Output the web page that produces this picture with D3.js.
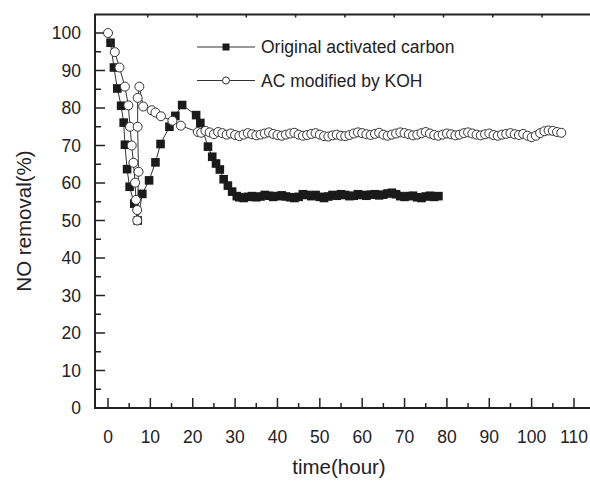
<!DOCTYPE html>
<html>
<head>
<meta charset="utf-8">
<script src="https://cdn.jsdelivr.net/npm/d3@7"></script>
<style>
  body { margin: 0; background: #fff; }
  text { font-family: "Liberation Sans", Arial, sans-serif; fill: #222; }
</style>
</head>
<body>
<div class="container"></div>
<script>
// Original activated carbon (filled squares)
var sqHours = [0.6, 1.4, 2.2, 3.1, 3.7, 4.0, 4.5, 5.1, 6.2, 7.0, 8.1, 9.7, 11.2, 12.4, 14.5, 15.9, 17.5,
  20.8, 21.8, 23.6, 24.6, 25.5, 26.4, 27.3, 28.3, 29.3, 30.4,
  31, 32, 33, 34, 35, 36, 37, 38, 39, 40, 41, 42, 43, 44, 45, 46, 47, 48, 49, 50,
  51, 52, 53, 54, 55, 56, 57, 58, 59, 60, 61, 62, 63, 64, 65, 66, 67, 68, 69, 70,
  71, 72, 73, 74, 75, 76, 77, 78]
var sqValues = [97.4, 90.8, 85.2, 80.6, 76.1, 70.2, 63.7, 59.0, 54.5, 50.0, 57.1, 60.7, 65.5, 70.4, 75.0, 77.9, 80.8,
  78.1, 76.0, 69.7, 67.0, 65.2, 63.6, 61.0, 59.3, 57.7, 56.5,
  56.2, 56.0, 56.3, 56.5, 56.2, 56.4, 56.8, 56.6, 56.3, 56.5, 56.7, 56.4, 56.2, 56.0, 56.3, 57.0, 56.8, 56.5, 56.8, 56.3,
  56.0, 56.4, 56.8, 56.6, 57.0, 56.8, 56.5, 56.6, 57.0, 56.8, 56.6, 56.9, 57.0, 56.7, 56.9, 57.2, 57.4, 57.0, 56.5, 56.3,
  56.5, 56.6, 56.2, 56.0, 56.4, 56.6, 56.3, 56.5]

// AC modified by KOH (open circles)
var ciHours = [0, 1.6, 2.7, 4.0, 4.8, 5.2, 5.6, 6.0, 6.4, 6.6, 6.9, 6.9, 7.2, 7.0, 7.0, 7.4, 8.3, 10.3, 11.2, 12.5, 15.2, 17.2, 21.2,
  22, 23, 24, 25, 26, 27, 28, 29, 30, 31, 32, 33, 34, 35, 36, 37, 38, 39, 40, 41, 42, 43, 44, 45, 46, 47, 48, 49, 50,
  51, 52, 53, 54, 55, 56, 57, 58, 59, 60, 61, 62, 63, 64, 65, 66, 67, 68, 69, 70, 71, 72, 73, 74, 75, 76, 77, 78, 79, 80,
  81, 82, 83, 84, 85, 86, 87, 88, 89, 90, 91, 92, 93, 94, 95, 96, 97, 98, 99, 100, 101, 102, 103, 104, 105, 106, 107]
var ciValues = [100, 94.9, 90.8, 85.7, 80.7, 75.0, 70.0, 65.4, 60.1, 55.5, 52.8, 50.0, 63.0, 75.0, 82.7, 85.7, 80.4, 79.4, 78.8, 77.8, 76.6, 75.3, 73.6,
  73.4, 73.9, 73.5, 73.0, 73.6, 73.3, 72.9, 73.2, 72.8, 72.5, 72.9, 73.3, 73.0, 72.7, 72.9, 73.2, 73.5, 73.1, 72.8, 72.6, 72.9, 73.2, 73.4, 72.9, 72.6, 72.8, 73.1, 73.3, 72.9,
  72.5, 72.4, 72.7, 72.9, 72.6, 72.5, 72.8, 73.2, 73.5, 73.3, 73.0, 72.8, 73.1, 73.4, 72.9, 72.6, 72.9, 73.2, 73.5, 73.3, 73.0, 72.7, 72.9, 73.3, 73.6, 73.2, 72.8, 72.6, 72.9, 73.2,
  73.0, 72.7, 72.9, 73.3, 73.5, 73.2, 72.9, 72.7, 73.0, 73.2, 72.8, 72.6, 72.9, 73.1, 73.3, 73.0, 72.8, 73.1, 72.6, 72.2, 72.6, 73.3, 73.8, 74.0, 73.9, 73.6, 73.4]

var seriesNames = ['Original activated carbon', 'AC modified by KOH']
var xTicks = d3.range(0, 111, 10)
var yTicks = d3.range(0, 101, 10)

var W = 590, H = 481
var frameLeft = 95, frameTop = 14.5, frameBottom = 408

var svg = d3.select('.container').append('svg')
  .attr('width', W)
  .attr('height', H)

var x = d3.scaleLinear().domain([0, 110]).range([108, 574])
var y = d3.scaleLinear().domain([0, 100]).range([408, 33])

// frame (right side runs off the picture)
svg.append('path')
  .attr('d', 'M' + (W + 5) + ',' + frameTop + 'H' + frameLeft + 'V' + frameBottom + 'H' + (W + 5))
  .attr('fill', 'none')
  .attr('stroke', '#222')
  .attr('stroke-width', 2)

// ticks, all pointing inward
var g = svg.append('g').attr('stroke', '#222').attr('stroke-width', 1.5)
g.selectAll('.xminor').data(d3.range(5, 111, 10)).enter().append('line')
  .attr('x1', function(d) { return x(d) }).attr('x2', function(d) { return x(d) })
  .attr('y1', frameBottom).attr('y2', frameBottom - 5)
g.selectAll('.xmajor').data(xTicks).enter().append('line')
  .attr('x1', function(d) { return x(d) }).attr('x2', function(d) { return x(d) })
  .attr('y1', frameBottom).attr('y2', frameBottom - 10)
g.selectAll('.yminor').data(d3.range(5, 101, 10)).enter().append('line')
  .attr('y1', function(d) { return y(d) }).attr('y2', function(d) { return y(d) })
  .attr('x1', frameLeft).attr('x2', frameLeft + 6)
g.selectAll('.ymajor').data(yTicks.slice(1)).enter().append('line')
  .attr('y1', function(d) { return y(d) }).attr('y2', function(d) { return y(d) })
  .attr('x1', frameLeft).attr('x2', frameLeft + 10)

// small ticks on the top border
var xTop = d3.scaleLinear().domain([0, 10]).range([98.4, 591.4])
g.selectAll('.topt').data(d3.range(1, 10)).enter().append('line')
  .attr('x1', function(d) { return xTop(d) }).attr('x2', function(d) { return xTop(d) })
  .attr('y1', frameTop).attr('y2', frameTop + 3)

// tick labels
svg.selectAll('.xl').data(xTicks).enter().append('text')
  .attr('x', function(d) { return x(d) })
  .attr('y', 443)
  .attr('text-anchor', 'middle')
  .attr('font-size', 17.5)
  .text(function(d) { return d })
svg.selectAll('.yl').data(yTicks).enter().append('text')
  .attr('x', 81)
  .attr('y', function(d) { return y(d) + 6.3 })
  .attr('text-anchor', 'end')
  .attr('font-size', 17.5)
  .text(function(d) { return d })

svg.append('text')
  .attr('x', 339).attr('y', 474)
  .attr('text-anchor', 'middle')
  .attr('font-size', 20.5)
  .text('time(hour)')
svg.append('text')
  .attr('transform', 'translate(31,221) rotate(-90)')
  .attr('text-anchor', 'middle')
  .attr('font-size', 20.5)
  .text('NO removal(%)')

var line = d3.line()
  .x(function(d) { return x(d[0]) })
  .y(function(d) { return y(d[1]) })

var sq = d3.zip(sqHours, sqValues)
var ci = d3.zip(ciHours, ciValues)

svg.append('path').datum(sq)
  .attr('d', line).attr('fill', 'none').attr('stroke', '#333').attr('stroke-width', 1)
svg.selectAll('.sq').data(sq).enter().append('rect')
  .attr('x', function(d) { return x(d[0]) - 4.3 })
  .attr('y', function(d) { return y(d[1]) - 4.3 })
  .attr('width', 8.6).attr('height', 8.6)
  .attr('fill', '#1a1a1a')

svg.append('path').datum(ci)
  .attr('d', line).attr('fill', 'none').attr('stroke', '#333').attr('stroke-width', 1)
svg.selectAll('.ci').data(ci).enter().append('circle')
  .attr('cx', function(d) { return x(d[0]) })
  .attr('cy', function(d) { return y(d[1]) })
  .attr('r', 4.5)
  .attr('fill', '#fff')
  .attr('stroke', '#333')
  .attr('stroke-width', 1)

// legend
var legend = svg.selectAll('.lg').data(seriesNames).enter().append('g')
  .attr('transform', function(d, i) { return 'translate(197,' + (47 + i * 33.5) + ')' })
legend.append('line')
  .attr('x1', 0).attr('x2', 58).attr('y1', 0).attr('y2', 0)
  .attr('stroke', '#333').attr('stroke-width', 1)
legend.filter(function(d, i) { return i === 0 }).append('rect')
  .attr('x', 25.5).attr('y', -3.5).attr('width', 7).attr('height', 7).attr('fill', '#1a1a1a')
legend.filter(function(d, i) { return i === 1 }).append('circle')
  .attr('cx', 29).attr('cy', 0).attr('r', 3.5)
  .attr('fill', '#fff').attr('stroke', '#333')
legend.append('text')
  .attr('x', 64).attr('y', 6.3)
  .attr('font-size', 17.5)
  .text(function(d) { return d })
</script>
</body>
</html>
